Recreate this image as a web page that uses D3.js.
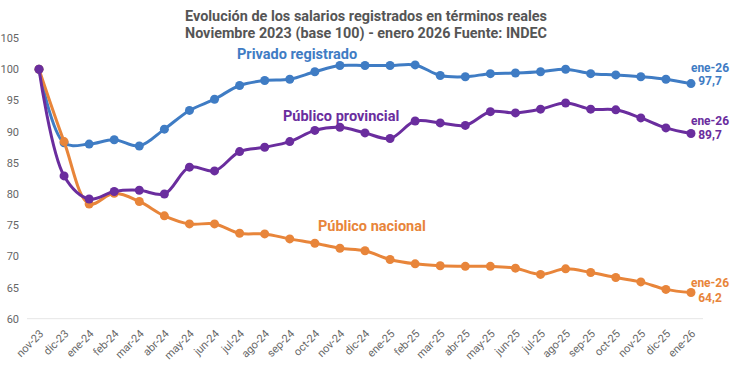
<!DOCTYPE html>
<html>
<head>
<meta charset="utf-8">
<script src="https://cdn.jsdelivr.net/npm/d3@7"></script>
<style>
  body { margin: 0; background: #fff; }
  svg { font-family: Roboto, "Noto Sans", sans-serif; }
</style>
</head>
<body>
<svg id="chart" width="730" height="367"></svg>
<script>
//:\\\ data //:\\\

var months = ["nov-23", "dic-23", "ene-24", "feb-24", "mar-24", "abr-24", "may-24", "jun-24",
  "jul-24", "ago-24", "sep-24", "oct-24", "nov-24", "dic-24", "ene-25", "feb-25", "mar-25",
  "abr-25", "may-25", "jun-25", "jul-25", "ago-25", "sep-25", "oct-25", "nov-25", "dic-25", "ene-26"];

var privado = [100, 88.2, 88.0, 88.7, 87.7, 90.4, 93.4, 95.2, 97.4, 98.2, 98.4, 99.6, 100.6,
  100.6, 100.6, 100.7, 99.0, 98.8, 99.3, 99.4, 99.6, 100.0, 99.3, 99.1, 98.8, 98.4, 97.7];

var provincial = [100, 82.9, 79.2, 80.4, 80.6, 80.0, 84.3, 83.7, 86.8, 87.5, 88.4, 90.2, 90.7,
  89.8, 88.9, 91.7, 91.4, 91.0, 93.2, 93.0, 93.6, 94.6, 93.6, 93.5, 92.2, 90.6, 89.7];

var nacional = [100, 88.4, 78.4, 80.1, 78.8, 76.5, 75.2, 75.2, 73.7, 73.6, 72.8, 72.1, 71.3,
  70.9, 69.5, 68.8, 68.5, 68.4, 68.4, 68.1, 67.1, 68.0, 67.4, 66.6, 65.9, 64.7, 64.2];

var yTicks = [60, 65, 70, 75, 80, 85, 90, 95, 100, 105];

var seriesNames = ["Privado registrado", "Público nacional", "Público provincial"];
var seriesColors = ["#3f7cc4", "#e8853a", "#6a2d9e"];

//:\\\ chart //:\\\

var svg = d3.select("#chart");

var x = d3.scalePoint()
  .domain(months)
  .range([39, 691]);

var y = d3.scaleLinear()
  .domain([60, 105])
  .range([318.7, 38.1]);

// title
var title = svg.append("g")
  .attr("fill", "#555")
  .style("font-weight", "bold")
  .style("font-size", "15px")
  .attr("text-anchor", "middle");

title.append("text")
  .attr("x", 366).attr("y", 21)
  .attr("textLength", 362).attr("lengthAdjust", "spacingAndGlyphs")
  .text("Evolución de los salarios registrados en términos reales");

title.append("text")
  .attr("x", 366).attr("y", 38)
  .attr("textLength", 362).attr("lengthAdjust", "spacingAndGlyphs")
  .text("Noviembre 2023 (base 100) - enero 2026 Fuente: INDEC");

// baseline
svg.append("line")
  .attr("x1", 27).attr("x2", 703)
  .attr("y1", y(60)).attr("y2", y(60))
  .attr("stroke", "#e6e6e6")
  .attr("stroke-width", 1);

// y axis
var yAxis = svg.append("g")
  .attr("transform", "translate(19,0)")
  .call(d3.axisLeft(y).tickValues(yTicks).tickSize(0).tickPadding(0));

yAxis.select(".domain").remove();
yAxis.selectAll("text")
  .attr("fill", "#666")
  .style("font-size", "11px")
  .style("font-family", "Roboto, sans-serif");

// x axis
var xAxis = svg.append("g")
  .attr("transform", "translate(0," + y(60) + ")")
  .call(d3.axisBottom(x).tickSize(0));

xAxis.select(".domain").remove();
xAxis.selectAll("text")
  .attr("x", 0).attr("y", 0).attr("dy", "0.35em")
  .attr("text-anchor", "end")
  .attr("transform", "translate(2,13) rotate(-45)")
  .attr("fill", "#666")
  .style("font-size", "11px")
  .style("font-family", "Roboto, sans-serif");

// lines
var allSeries = [privado, nacional, provincial];

var line = d3.line()
  .x(function(d, i) { return x(months[i]); })
  .y(function(d) { return y(d); })
  .curve(d3.curveCatmullRom.alpha(0.5));

allSeries.forEach(function(values, k) {
  var g = svg.append("g");

  g.append("path")
    .datum(values)
    .attr("fill", "none")
    .attr("stroke", seriesColors[k])
    .attr("stroke-width", 3)
    .attr("stroke-linejoin", "round")
    .attr("d", line);

  g.selectAll("circle")
    .data(values)
    .enter()
    .append("circle")
    .attr("cx", function(d, i) { return x(months[i]); })
    .attr("cy", function(d) { return y(d); })
    .attr("r", 4.5)
    .attr("fill", seriesColors[k]);
});

// series labels
var labelPos = [[237, 59], [318, 231], [283, 121]];

seriesNames.forEach(function(name, k) {
  svg.append("text")
    .attr("x", labelPos[k][0])
    .attr("y", labelPos[k][1])
    .attr("fill", seriesColors[k])
    .style("font-weight", "bold")
    .style("font-size", "14.5px")
    .text(name);
});

// end value labels
var last = months.length - 1;
var endOffsets = [[-12, 1], [-6, 9], [-9, 5]];

allSeries.forEach(function(values, k) {
  var v = values[last];
  var t = svg.append("text")
    .attr("text-anchor", "middle")
    .attr("fill", seriesColors[k])
    .style("font-weight", "bold")
    .style("font-size", "12px");

  t.append("tspan")
    .attr("x", 710)
    .attr("y", y(v) + endOffsets[k][0])
    .text(months[last]);

  t.append("tspan")
    .attr("x", 710)
    .attr("y", y(v) + endOffsets[k][1])
    .text(d3.format(".1f")(v).replace(".", ","));
});
</script>
</body>
</html>
